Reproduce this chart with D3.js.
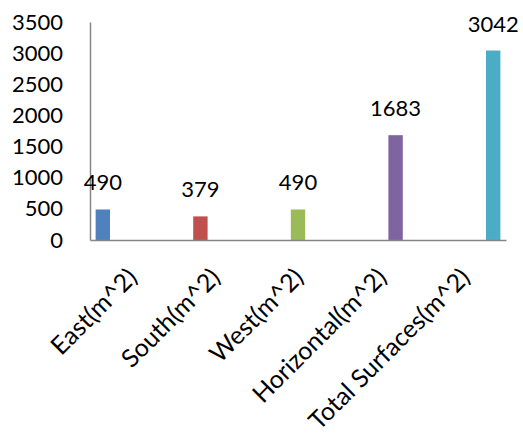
<!DOCTYPE html>
<html>
<head>
<meta charset="utf-8">
<script src="https://cdn.jsdelivr.net/npm/d3@7"></script>
<style>
  body { margin: 0; background: #fff; }
  text { font-family: Lato, "Liberation Sans", sans-serif; fill: #000; }
</style>
</head>
<body>
<svg width="523" height="434"></svg>
<script>
// chart values
const categories = ["East(m^2)", "South(m^2)", "West(m^2)", "Horizontal(m^2)", "Total Surfaces(m^2)"];
const values = [490, 379, 490, 1683, 3042];
const colors = ["#4F81BD", "#C0504D", "#9BBB59", "#8064A2", "#4BACC6"];
const yTicks = [0, 500, 1000, 1500, 2000, 2500, 3000, 3500];

function draw() {
    const svg = d3.select("svg");

    const left = 90, right = 506, top = 22, bottom = 240;

    // one category per band, each series takes its own slot inside the band (Excel cluster look)
    const x = d3.scaleBand()
                .domain(categories)
                .range([left, right]);
    const xs = d3.scaleBand()
                 .domain(d3.range(categories.length))
                 .range([0, x.bandwidth()])
                 .paddingOuter(0.39);

    const y = d3.scaleLinear()
                .domain([0, 3500])
                .range([bottom, top]);

    // y axis
    const yAxis = svg.append("g")
       .attr("transform", `translate(${left},0)`)
       .call(d3.axisLeft(y).tickValues(yTicks).tickFormat(d3.format("d")).tickSize(0).tickPadding(27));
    yAxis.select(".domain").attr("stroke", "#868686").attr("stroke-width", 1.5);
    yAxis.selectAll("text").attr("font-size", 22).attr("font-family", "Lato");

    // bars
    svg.selectAll(".bar")
       .data(values)
       .enter()
       .append("rect")
         .attr("class", "bar")
         .attr("x", (d, i) => x(categories[i]) + xs(i))
         .attr("width", xs.bandwidth())
         .attr("y", d => y(d))
         .attr("height", d => y(0) - y(d))
         .attr("fill", (d, i) => colors[i]);

    // value labels
    svg.selectAll(".val")
       .data(values)
       .enter()
       .append("text")
         .attr("class", "val")
         .attr("x", (d, i) => x(categories[i]) + xs(i) + xs.bandwidth() / 2)
         .attr("y", d => y(d) - 19)
         .attr("text-anchor", "middle")
         .attr("font-size", 22)
         .text(d => d);

    // x axis
    const xAxis = svg.append("g")
       .attr("transform", `translate(0,${bottom})`)
       .call(d3.axisBottom(x).tickSize(0).tickPadding(0));
    xAxis.select(".domain").attr("stroke", "#868686").attr("stroke-width", 1.5);
    xAxis.selectAll("text")
         .attr("font-size", 25)
         .attr("font-family", "Lato")
         .attr("text-anchor", "end")
         .attr("dy", 0)
         .attr("transform", "translate(7,39) rotate(-45)");
}

draw();
</script>
</body>
</html>
